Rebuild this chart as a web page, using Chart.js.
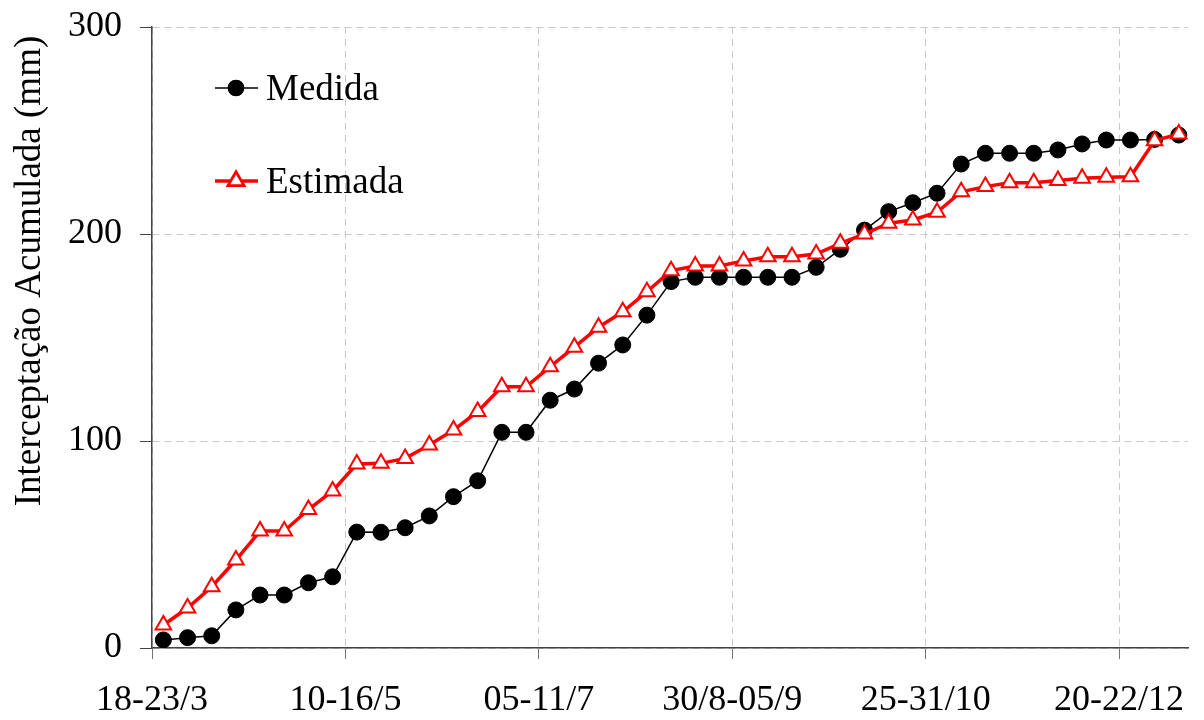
<!DOCTYPE html>
<html>
<head>
<meta charset="utf-8">
<script src="https://cdn.jsdelivr.net/npm/chart.js@4/dist/chart.umd.min.js"></script>
<style>
  html, body { margin: 0; padding: 0; background: #fff; }
  #wrap { width: 1204px; height: 720px; }
</style>
</head>
<body>
<div id="wrap"><canvas id="c" width="1204" height="720"></canvas></div>
<script>
// ---- data ----
const tickLabels = ['18-23/3', '10-16/5', '05-11/7', '30/8-05/9', '25-31/10', '20-22/12'];
const medida = [3.9, 5.0, 5.9, 18.4, 25.6, 25.6, 31.5, 34.4, 56.0, 55.9,
  58.1, 63.8, 73.1, 80.8, 104.2, 104.2, 119.7, 125.1, 137.6, 146.4,
  160.8, 177.0, 179.1, 179.1, 179.1, 179.1, 179.1, 183.9, 192.6, 201.9,
  210.8, 215.1, 219.7, 233.8, 239.0, 239.0, 239.0, 240.6, 243.5, 245.4,
  245.4, 245.7, 247.8];
const estimada = [11.1, 19.3, 29.6, 42.5, 56.5, 56.5, 66.9, 75.9, 88.9, 89.2,
  91.6, 98.1, 105.3, 114.2, 126.2, 126.2, 135.9, 145.3, 155.0, 162.4,
  172.1, 182.3, 184.5, 184.5, 187.0, 189.0, 189.0, 190.3, 195.5, 200.0,
  205.2, 206.8, 210.5, 220.4, 222.9, 224.8, 224.8, 225.8, 226.9, 227.4,
  227.7, 245.1, 248.3];
const seriesNames = ['Medida', 'Estimada'];
const yTitle = 'Interceptação Acumulada (mm)';
const ticksPerLabel = 8;
const pointOffset = 0.47;

const toXY = arr => arr.map((v, i) => ({ x: i + pointOffset, y: v }));

const FONT = '"Liberation Serif", "Times New Roman", serif';

const overlay = {
  id: 'overlay',
  afterDraw(chart) {
    const ctx = chart.ctx;
    ctx.save();
    ctx.fillStyle = '#000';
    ctx.font = '37px ' + FONT;
    ctx.textAlign = 'center';
    ctx.textBaseline = 'middle';
    ctx.translate(30, 271);
    ctx.rotate(-Math.PI / 2);
    ctx.fillText(yTitle, 0, 0);
    ctx.restore();

    // legend
    const items = [
      { y: 88, ds: chart.data.datasets[0] },
      { y: 181, ds: chart.data.datasets[1] }
    ];
    items.forEach(it => {
      const ds = it.ds;
      ctx.save();
      ctx.strokeStyle = ds.borderColor;
      ctx.lineWidth = ds.borderWidth;
      ctx.beginPath();
      ctx.moveTo(215, it.y);
      ctx.lineTo(258, it.y);
      ctx.stroke();
      Chart.helpers.drawPoint(ctx, {
        pointStyle: ds.pointStyle,
        radius: ds.pointRadius * 0.95,
        borderWidth: ds.pointBorderWidth,
        rotation: 0
      }, 236, it.y);
      ctx.fillStyle = ds.pointBackgroundColor;
      ctx.strokeStyle = ds.pointBorderColor;
      ctx.lineWidth = ds.pointBorderWidth;
      ctx.fill();
      ctx.stroke();
      ctx.fillStyle = '#000';
      ctx.font = '37px ' + FONT;
      ctx.textAlign = 'left';
      ctx.textBaseline = 'middle';
      ctx.fillText(ds.label, 266, it.y + 2);
      ctx.restore();
    });
  }
};

new Chart(document.getElementById('c'), {
  type: 'scatter',
  data: {
    datasets: [
      {
        label: seriesNames[0],
        data: toXY(medida),
        showLine: true,
        borderColor: '#000000',
        borderWidth: 1.5,
        pointStyle: 'circle',
        pointRadius: 8,
        pointBorderWidth: 1,
        pointBackgroundColor: '#000000',
        pointBorderColor: '#000000',
        order: 2
      },
      {
        label: seriesNames[1],
        data: toXY(estimada),
        showLine: true,
        borderColor: '#ff0000',
        borderWidth: 3.5,
        pointStyle: 'triangle',
        pointRadius: 9,
        pointBorderWidth: 2,
        pointBackgroundColor: '#ffffff',
        pointBorderColor: '#ff0000',
        order: 1
      }
    ]
  },
  options: {
    responsive: false,
    animation: false,
    devicePixelRatio: 1,
    layout: { padding: { left: 0, right: 16, top: 27, bottom: 0 } },
    plugins: {
      legend: { display: false },
      tooltip: { enabled: false }
    },
    scales: {
      x: {
        type: 'linear',
        min: 0,
        max: 42.85,
        afterFit: s => { s.height = 72; s.paddingLeft = 0; s.paddingRight = 0; },
        ticks: {
          stepSize: ticksPerLabel,
          includeBounds: false,
          autoSkip: false,
          maxRotation: 0,
          padding: 20,
          color: '#000',
          font: { family: FONT, size: 36 },
          callback: v => tickLabels[Math.round(v / ticksPerLabel)]
        },
        grid: {
          color: '#c8c8c8',
          lineWidth: 1,
          tickLength: 11,
          tickColor: '#444',
          tickBorderDash: [1, 0],
          tickWidth: 1
        },
        border: { display: true, color: '#444', width: 1.5, dash: [7, 5] }
      },
      y: {
        min: 0,
        max: 300,
        afterFit: s => { s.width = 152; s.paddingTop = 0; s.paddingBottom = 0; },
        ticks: {
          stepSize: 100,
          padding: 18,
          color: '#000',
          font: { family: FONT, size: 36 }
        },
        grid: {
          color: '#c8c8c8',
          lineWidth: 1,
          tickLength: 12,
          tickColor: '#444',
          tickBorderDash: [1, 0],
          tickWidth: 1
        },
        border: { display: true, color: '#444', width: 1.5, dash: [7, 5] }
      }
    }
  },
  plugins: [overlay]
});
</script>
</body>
</html>
